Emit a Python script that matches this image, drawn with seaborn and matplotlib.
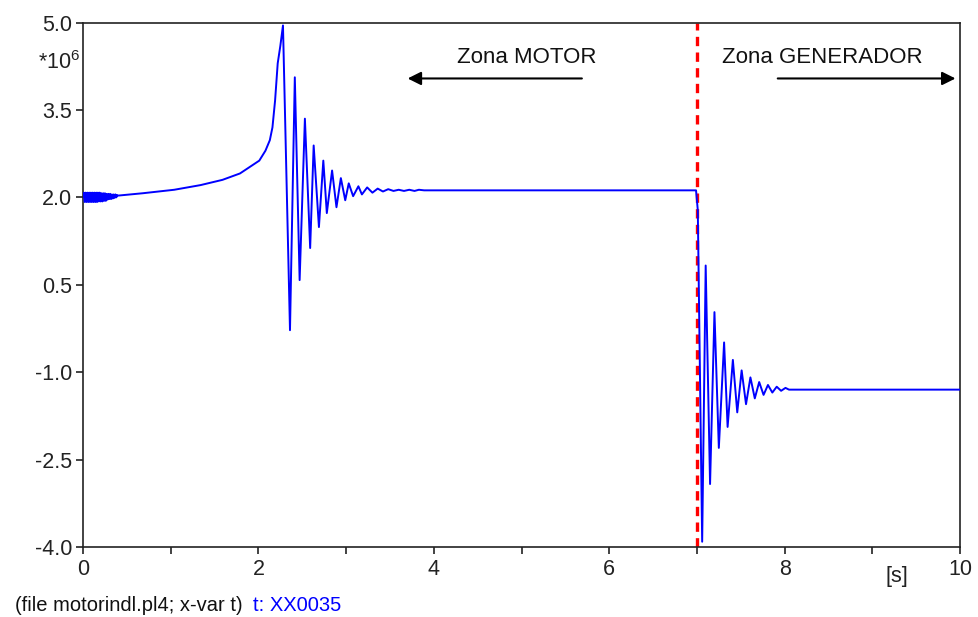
import matplotlib
matplotlib.use("Agg")
import matplotlib.pyplot as plt
import seaborn as sns
import pandas as pd

# ---- data (time in s, value in units of 1e6) ----
t_ripple = [0.00, 0.01, 0.02, 0.03, 0.04, 0.05, 0.06, 0.07, 0.08, 0.09, 0.10, 0.11,
            0.12, 0.13, 0.14, 0.15, 0.16, 0.17, 0.18, 0.19, 0.20, 0.21, 0.22, 0.23,
            0.24, 0.25, 0.26, 0.27, 0.28, 0.29, 0.30, 0.31, 0.32, 0.33, 0.34, 0.35,
            0.36, 0.37, 0.38, 0.39, 0.40]
y_ripple = [2.01, 2.08, 1.92, 2.08, 1.92, 2.08, 1.92, 2.08, 1.92, 2.08, 1.92, 2.08,
            1.92, 2.08, 1.92, 2.08, 1.92, 2.08, 1.93, 2.08, 1.93, 2.07, 1.93, 2.07,
            1.94, 2.07, 1.94, 2.06, 1.96, 2.06, 1.97, 2.06, 1.97, 2.05, 1.98, 2.05,
            1.99, 2.05, 2.00, 2.04, 2.03]

t_rise = [0.68, 1.04, 1.34, 1.59, 1.79, 1.93, 2.01, 2.08, 2.13, 2.16, 2.19, 2.22, 2.25, 2.28]
y_rise = [2.07, 2.13, 2.21, 2.30, 2.41, 2.55, 2.63, 2.80, 2.98, 3.20, 3.66, 4.30, 4.60, 4.95]

t_motor = [2.36, 2.415, 2.47, 2.53, 2.59, 2.63, 2.69, 2.74, 2.78, 2.84, 2.89, 2.94,
           2.99, 3.03, 3.08, 3.14, 3.18, 3.24, 3.30, 3.36, 3.42, 3.48, 3.54, 3.60,
           3.66, 3.72, 3.78, 3.83, 3.89, 3.95, 6.99]
y_motor = [-0.28, 4.06, 0.58, 3.35, 1.13, 2.89, 1.49, 2.63, 1.73, 2.46, 1.83, 2.33,
           1.95, 2.24, 2.02, 2.19, 2.05, 2.17, 2.08, 2.15, 2.10, 2.14, 2.11, 2.13,
           2.11, 2.13, 2.11, 2.13, 2.12, 2.12, 2.12]

t_gen = [7.01, 7.06, 7.10, 7.15, 7.20, 7.25, 7.31, 7.35, 7.41, 7.46, 7.51, 7.56,
         7.61, 7.66, 7.71, 7.76, 7.81, 7.86, 7.91, 7.96, 8.01, 8.05, 10.0]
y_gen = [1.78, -3.91, 0.83, -2.92, 0.03, -2.30, -0.49, -1.94, -0.79, -1.69, -0.97, -1.55,
         -1.09, -1.45, -1.17, -1.39, -1.22, -1.35, -1.25, -1.32, -1.27, -1.30, -1.30]

y_ticks = [5.0, 3.5, 2.0, 0.5, -1.0, -2.5, -4.0]
y_ticklabels = ["5.0", "3.5", "2.0", "0.5", "-1.0", "-2.5", "-4.0"]
x_ticks = [0, 2, 4, 6, 8, 10]
x_minor = [1, 3, 5, 7, 9]
switch_time = 7.0

# ---- style ----
sns.set_style("white")
plt.rcParams['font.family'] = ['Liberation Sans', 'DejaVu Sans']
plt.rcParams['mathtext.fontset'] = 'custom'
plt.rcParams['mathtext.rm'] = 'Liberation Sans'
plt.rcParams['mathtext.it'] = 'Liberation Sans'

fig = plt.figure(figsize=(9.79, 6.17), dpi=100)
ax = fig.add_axes([0.0848, 0.1135, 0.8958, 0.8500])

t_all = t_ripple + t_rise + t_motor + t_gen
y_all = y_ripple + y_rise + y_motor + y_gen
df = pd.DataFrame({"t": t_all, "v": y_all})
sns.lineplot(data=df, x="t", y="v", sort=False, estimator=None,
             color="#0000FF", linewidth=1.4, ax=ax, zorder=3)

ax.axvline(switch_time, color="#FF0000", linewidth=2.4, linestyle=(0, (2.8, 1.9)), zorder=2)

ax.set_xlim(0, 10)
ax.set_ylim(-4, 5)
ax.set_xticks(x_ticks)
ax.set_xticks(x_minor, minor=True)
ax.set_yticks(y_ticks)
ax.set_yticklabels(y_ticklabels)
ax.set_xlabel("")
ax.set_ylabel("")
ax.tick_params(axis="both", which="both", direction="out", length=5, width=1.2,
               colors="#222222", labelsize=15.5, left=True, bottom=True)
ax.tick_params(axis="x", pad=4)
ax.tick_params(axis="y", pad=3)
for s in ax.spines.values():
    s.set_visible(True)
    s.set_color("#222222")
    s.set_linewidth(1.2)

ax.text(-0.0034, 4.31, r"*10$^6$", transform=ax.get_yaxis_transform(),
        ha="right", va="center", fontsize=15.5, color="#222222")
ax.text(9.28, -0.057, "[s]", transform=ax.get_xaxis_transform(),
        ha="center", va="center", fontsize=15.5, color="#222222")

ax.text(5.06, 4.40, "Zona MOTOR", ha="center", va="center", fontsize=16, color="#111111")
ax.text(8.43, 4.40, "Zona GENERADOR", ha="center", va="center", fontsize=16, color="#111111")
ax.annotate("", xy=(3.67, 4.04), xytext=(5.72, 4.04),
            arrowprops=dict(arrowstyle="-|>", color="black", lw=1.5, mutation_scale=20))
ax.annotate("", xy=(9.98, 4.04), xytext=(7.89, 4.04),
            arrowprops=dict(arrowstyle="-|>", color="black", lw=1.5, mutation_scale=20))

fig.text(0.0153, 0.0194, "(file motorindl.pl4; x-var t)", ha="left", va="center",
         fontsize=14.5, color="#111111")
fig.text(0.2584, 0.0194, "t: XX0035", ha="left", va="center",
         fontsize=14.5, color="#0000FF")

fig.savefig("out.png", dpi=100)
